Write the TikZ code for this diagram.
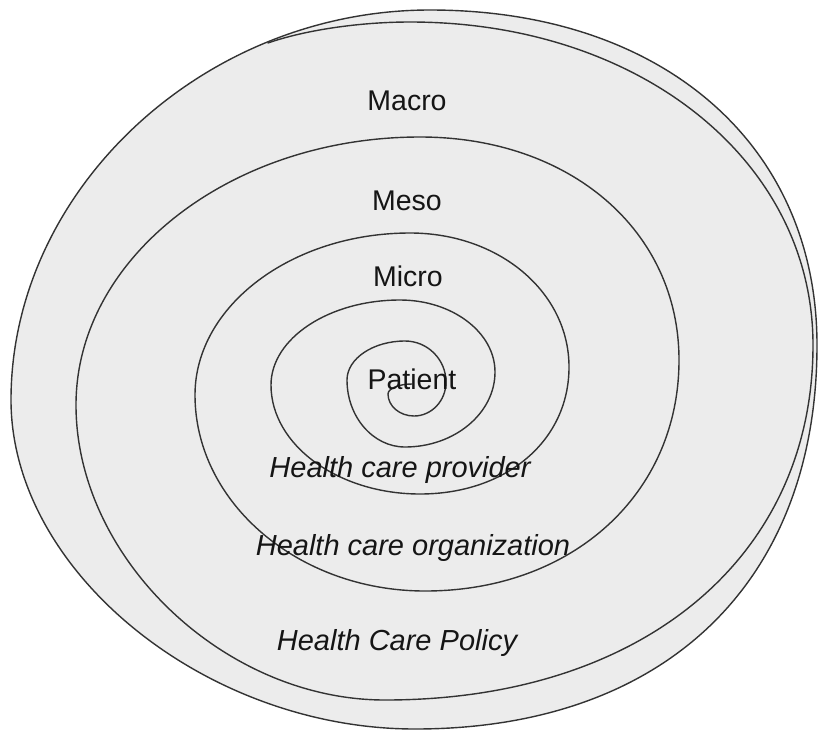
\documentclass[tikz,border=0pt]{standalone}
\usepackage{fontspec}
\setmainfont{Liberation Sans}
\definecolor{fillgray}{HTML}{ECECEC}
\definecolor{linegray}{HTML}{333333}
\definecolor{textcol}{HTML}{151515}
\tikzset{
  spiralline/.style={draw=linegray, line width=1.4pt, line cap=round, line join=round},
  levellabel/.style={anchor=base, text=textcol, inner sep=0pt, font=\fontsize{28.5}{30}\selectfont},
  actorlabel/.style={anchor=base, text=textcol, inner sep=0pt, font=\fontsize{29}{31}\selectfont\itshape}
}
\begin{document}
\begin{tikzpicture}[x=1pt,y=-1pt]
\useasboundingbox (0,0) rectangle (818,731);
% outer boundary
\path[spiralline, fill=fillgray] (430,10)
  .. controls (203.7,10) and (11,189.4) .. (11,400)
  .. controls (11,571) and (205,729) .. (415,729)
  .. controls (664.2,729) and (817,583.1) .. (817,345)
  .. controls (817,144) and (662,10) .. (430,10) -- cycle;
% spiral
\path[spiralline] (412,384)
  .. controls (398.8,384) and (388,388.5) .. (388,394)
  .. controls (388,406.1) and (399.7,416) .. (414,416)
  .. controls (431.6,416) and (446,400.7) .. (446,382)
  .. controls (446,359.5) and (427.6,341) .. (405,341)
  .. controls (373.1,341) and (347,358.6) .. (347,380)
  .. controls (347,416.9) and (373.1,447) .. (405,447)
  .. controls (454.5,447) and (495,413.3) .. (495,372)
  .. controls (495,332.4) and (452.3,300) .. (400,300)
  .. controls (329.1,300) and (271,338.3) .. (271,385)
  .. controls (271,445) and (338.1,494) .. (420,494)
  .. controls (506.4,494) and (569,440.7) .. (569,367)
  .. controls (569,292) and (499,233) .. (410,233)
  .. controls (291.8,233) and (195,305.9) .. (195,395)
  .. controls (195,502.8) and (298.5,591) .. (425,591)
  .. controls (572.3,591) and (679,494) .. (679,360)
  .. controls (679,230.7) and (570.2,137) .. (420,137)
  .. controls (230.8,137) and (76,257.6) .. (76,405)
  .. controls (76,558) and (224,700) .. (385,700)
  .. controls (641.8,700) and (813,558) .. (813,345)
  .. controls (813,161) and (640,22) .. (410,22)
  .. controls (360,22) and (305,30) .. (268,43);
% labels
\node[levellabel] (macro) at (407,110) {Macro};
\node[levellabel] (meso) at (407,210) {Meso};
\node[levellabel] (micro) at (408,286) {Micro};
\node[levellabel] (patient) at (412,389) {Patient};
\node[actorlabel] (provider) at (400,477) {Health care provider};
\node[actorlabel] (organization) at (413,555) {Health care organization};
\node[actorlabel] (policy) at (397,650) {Health Care Policy};
\end{tikzpicture}
\end{document}
